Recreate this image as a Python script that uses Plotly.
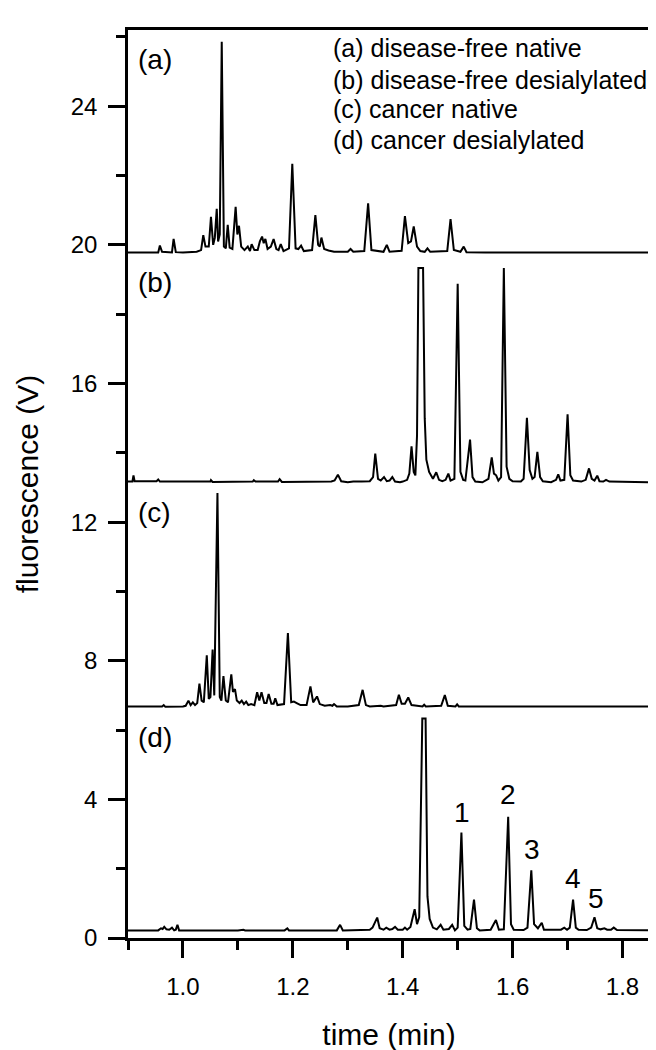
import plotly.graph_objects as go

# ---------------------------------------------------------------------------
# Chromatogram traces (time in min, fluorescence in V, offsets included)
# ---------------------------------------------------------------------------

a_time = [0.90, 0.955, 0.958, 0.962, 0.98, 0.983, 0.987, 1.00, 1.025, 1.033, 1.037, 1.041,
          1.047, 1.051, 1.055, 1.058, 1.0615, 1.064, 1.067, 1.0706, 1.0745, 1.078, 1.0815,
          1.085, 1.090, 1.0959, 1.099, 1.102, 1.106, 1.112, 1.118, 1.122, 1.125, 1.130,
          1.136, 1.140, 1.144, 1.147, 1.150, 1.154, 1.160, 1.165, 1.170, 1.174, 1.178,
          1.183, 1.193, 1.199, 1.205, 1.210, 1.215, 1.220, 1.235, 1.241, 1.246, 1.249,
          1.252, 1.257, 1.265, 1.275, 1.300, 1.305, 1.310, 1.330, 1.337, 1.343, 1.365,
          1.371, 1.376, 1.398, 1.404, 1.410, 1.415, 1.420, 1.426, 1.432, 1.440, 1.445,
          1.450, 1.481, 1.487, 1.493, 1.505, 1.511, 1.516, 1.55, 1.85]
a_signal = [19.78, 19.78, 19.98, 19.80, 19.78, 20.17, 19.79, 19.78, 19.80, 19.85, 20.28, 19.95,
            19.95, 20.81, 20.00, 20.20, 21.04, 20.10, 20.30, 25.86, 19.95, 19.90, 20.58,
            19.92, 19.88, 21.10, 20.30, 20.55, 19.95, 19.85, 19.95, 19.82, 20.02, 19.85,
            19.85, 20.10, 20.24, 20.05, 20.17, 19.88, 19.95, 20.17, 19.88, 19.85, 20.02,
            19.82, 19.90, 22.34, 19.90, 19.88, 19.98, 19.82, 19.85, 20.86, 20.00, 19.95,
            20.21, 19.88, 19.84, 19.80, 19.80, 19.88, 19.80, 19.82, 21.20, 19.85, 19.80,
            20.00, 19.80, 19.83, 20.83, 20.05, 20.10, 20.53, 19.95, 19.82, 19.80, 19.90,
            19.80, 19.82, 20.74, 19.85, 19.80, 19.95, 19.79, 19.78, 19.78]

b_time = [0.90, 0.908, 0.910, 0.912, 0.952, 0.955, 0.958, 1.05, 1.051, 1.054, 1.127, 1.129,
          1.132, 1.173, 1.176, 1.180, 1.27, 1.276, 1.282, 1.288, 1.300, 1.310, 1.325, 1.340,
          1.346, 1.350, 1.355, 1.360, 1.366, 1.371, 1.376, 1.381, 1.386, 1.395, 1.400,
          1.408, 1.412, 1.416, 1.420, 1.423, 1.426, 1.4285, 1.437, 1.440, 1.443, 1.448,
          1.455, 1.461, 1.466, 1.472, 1.478, 1.483, 1.487, 1.494, 1.500, 1.505, 1.510,
          1.514, 1.5225, 1.527, 1.532, 1.545, 1.556, 1.562, 1.566, 1.570, 1.574, 1.579,
          1.584, 1.589, 1.594, 1.600, 1.615, 1.620, 1.626, 1.631, 1.636, 1.640, 1.645,
          1.650, 1.655, 1.670, 1.679, 1.683, 1.687, 1.694, 1.700, 1.705, 1.710, 1.725,
          1.733, 1.739, 1.744, 1.749, 1.754, 1.758, 1.765, 1.770, 1.776, 1.85]
b_signal = [13.17, 13.17, 13.35, 13.18, 13.18, 13.23, 13.17, 13.17, 13.21, 13.16, 13.17, 13.21,
            13.17, 13.17, 13.24, 13.16, 13.17, 13.20, 13.37, 13.18, 13.15, 13.17, 13.17, 13.18,
            13.30, 13.98, 13.25, 13.20, 13.30, 13.18, 13.20, 13.30, 13.17, 13.15, 13.17,
            13.22, 13.40, 14.19, 13.45, 13.35, 14.50, 19.33, 19.33, 15.00, 13.80, 13.45,
            13.25, 13.44, 13.22, 13.18, 13.22, 13.40, 13.20, 13.25, 18.88, 13.45, 13.22,
            13.20, 14.38, 13.30, 13.17, 13.15, 13.25, 13.87, 13.40, 13.35, 13.20, 13.30,
            19.33, 13.60, 13.25, 13.18, 13.17, 13.25, 15.01, 13.50, 13.25, 13.30, 14.03,
            13.30, 13.18, 13.15, 13.22, 13.38, 13.20, 13.22, 15.11, 13.35, 13.20, 13.17,
            13.22, 13.55, 13.25, 13.20, 13.34, 13.18, 13.17, 13.22, 13.17, 13.15]

c_time = [0.90, 0.962, 0.965, 0.968, 1.000, 1.005, 1.010, 1.014, 1.018, 1.022, 1.026, 1.030,
          1.034, 1.038, 1.0434, 1.047, 1.050, 1.054, 1.057, 1.0628, 1.067, 1.070, 1.0737,
          1.078, 1.082, 1.088, 1.091, 1.0947, 1.098, 1.103, 1.107, 1.111, 1.115, 1.119,
          1.124, 1.130, 1.135, 1.139, 1.143, 1.148, 1.152, 1.156, 1.161, 1.165, 1.168,
          1.172, 1.184, 1.191, 1.197, 1.202, 1.207, 1.214, 1.225, 1.232, 1.237, 1.244,
          1.249, 1.258, 1.268, 1.272, 1.275, 1.280, 1.300, 1.310, 1.320, 1.327, 1.333,
          1.340, 1.360, 1.365, 1.388, 1.393, 1.398, 1.404, 1.410, 1.416, 1.436, 1.439,
          1.442, 1.470, 1.4766, 1.482, 1.496, 1.499, 1.502, 1.85]
c_signal = [6.68, 6.68, 6.72, 6.67, 6.68, 6.70, 6.85, 6.72, 6.80, 6.72, 6.78, 7.34,
            6.85, 6.80, 8.16, 6.90, 6.95, 8.32, 7.00, 12.84, 6.95, 6.85, 7.56,
            6.85, 6.80, 7.61, 7.10, 7.18, 6.85, 6.78, 6.85, 6.75, 6.82, 6.72,
            6.75, 6.72, 7.09, 6.85, 7.09, 6.78, 6.78, 7.04, 6.76, 6.76, 6.92,
            6.72, 6.75, 8.80, 6.80, 6.82, 6.78, 6.72, 6.72, 7.26, 6.80, 6.97,
            6.75, 6.70, 6.72, 6.70, 6.75, 6.68, 6.68, 6.70, 6.72, 7.16, 6.72,
            6.68, 6.70, 6.68, 6.72, 7.02, 6.76, 6.76, 6.94, 6.72, 6.68, 6.73,
            6.68, 6.70, 7.01, 6.70, 6.68, 6.74, 6.68, 6.68]

d_time = [0.90, 0.955, 0.960, 0.963, 0.966, 0.970, 0.975, 0.980, 0.984, 0.987, 0.990, 0.993,
          1.100, 1.110, 1.113, 1.185, 1.190, 1.193, 1.280, 1.286, 1.291, 1.340, 1.345,
          1.3535, 1.358, 1.365, 1.370, 1.376, 1.381, 1.386, 1.391, 1.400, 1.404, 1.408,
          1.414, 1.4217, 1.426, 1.430, 1.4356, 1.4416, 1.445, 1.449, 1.455, 1.462, 1.469,
          1.474, 1.484, 1.490, 1.495, 1.500, 1.5068, 1.512, 1.518, 1.523, 1.5297, 1.535,
          1.540, 1.560, 1.5696, 1.575, 1.584, 1.5919, 1.597, 1.602, 1.620, 1.627, 1.634,
          1.639, 1.646, 1.653, 1.657, 1.675, 1.688, 1.694, 1.699, 1.704, 1.710, 1.715,
          1.720, 1.735, 1.743, 1.749, 1.754, 1.760, 1.767, 1.772, 1.779, 1.784, 1.790, 1.85]
d_signal = [0.22, 0.22, 0.28, 0.26, 0.32, 0.25, 0.24, 0.30, 0.22, 0.24, 0.38, 0.22,
            0.22, 0.24, 0.22, 0.22, 0.28, 0.22, 0.22, 0.38, 0.22, 0.24, 0.30,
            0.59, 0.28, 0.24, 0.30, 0.24, 0.26, 0.32, 0.24, 0.24, 0.30, 0.24,
            0.32, 0.83, 0.40, 0.60, 6.33, 6.33, 1.20, 0.55, 0.30, 0.25, 0.38,
            0.24, 0.26, 0.38, 0.22, 0.30, 3.04, 0.35, 0.24, 0.26, 1.11, 0.28,
            0.22, 0.24, 0.52, 0.24, 0.25, 3.50, 0.40, 0.24, 0.23, 0.30, 1.95,
            0.40, 0.28, 0.44, 0.24, 0.23, 0.24, 0.30, 0.24, 0.30, 1.11, 0.30,
            0.24, 0.23, 0.30, 0.60, 0.28, 0.25, 0.28, 0.24, 0.24, 0.30, 0.23, 0.22]

panel_labels = ["(a)", "(b)", "(c)", "(d)"]
panel_label_y = [25.34, 18.92, 12.27, 5.79]

legend_lines = ["(a) disease-free native", "(b) disease-free desialylated",
                "(c) cancer native", "(d) cancer desialylated"]
legend_line_y = [25.69, 24.77, 23.92, 23.03]

peak_numbers = ["1", "2", "3", "4", "5"]
peak_number_x = [1.508, 1.592, 1.636, 1.710, 1.752]
peak_number_y = [3.61, 4.14, 2.55, 1.71, 1.14]

y_ticks = [0, 4, 8, 12, 16, 20, 24]
x_ticks = [1.0, 1.2, 1.4, 1.6, 1.8]

FONT = "Liberation Sans, Arial, sans-serif"

fig = go.Figure()
for t, s in [(a_time, a_signal), (b_time, b_signal), (c_time, c_signal), (d_time, d_signal)]:
    fig.add_trace(go.Scatter(x=t, y=s, mode="lines", line=dict(color="black", width=2),
                             showlegend=False, hoverinfo="skip"))

for lab, yv in zip(panel_labels, panel_label_y):
    fig.add_annotation(x=0.914, y=yv, text=lab, showarrow=False, xanchor="left",
                       yanchor="middle", font=dict(size=28, color="black", family=FONT))

for txt, yv in zip(legend_lines, legend_line_y):
    fig.add_annotation(x=1.270, y=yv, text=txt, showarrow=False, xanchor="left",
                       yanchor="middle", font=dict(size=25, color="black", family=FONT))

for txt, xv, yv in zip(peak_numbers, peak_number_x, peak_number_y):
    fig.add_annotation(x=xv, y=yv, text=txt, showarrow=False, xanchor="center",
                       yanchor="middle", font=dict(size=28, color="black", family=FONT))

axis_common = dict(showline=True, linecolor="black", linewidth=2.5, mirror=True,
                   ticks="outside", tickcolor="black", tickwidth=2.5, ticklen=17,
                   showgrid=False, zeroline=False,
                   tickfont=dict(size=24, color="black", family=FONT))

fig.update_xaxes(range=[0.9, 1.85], tickvals=x_ticks, tickformat=".1f",
                 ticklabelstandoff=8,
                 minor=dict(dtick=0.1, tick0=0.9, ticks="outside", ticklen=9,
                            tickwidth=2.5, tickcolor="black"),
                 title=dict(text="time (min)", standoff=26,
                            font=dict(size=30, color="black", family=FONT)),
                 **axis_common)
fig.update_yaxes(range=[0, 26.2], tickvals=y_ticks,
                 ticklabelstandoff=6,
                 minor=dict(dtick=2, tick0=0, ticks="outside", ticklen=9,
                            tickwidth=2.5, tickcolor="black"),
                 title=dict(text="fluorescence (V)", standoff=24,
                            font=dict(size=30, color="black", family=FONT)),
                 **axis_common)

fig.update_layout(width=656, height=1050, plot_bgcolor="white", paper_bgcolor="white",
                  margin=dict(l=120, r=11, t=22, b=110), showlegend=False,
                  font=dict(family=FONT, color="black"))

fig.write_html("out.html")
